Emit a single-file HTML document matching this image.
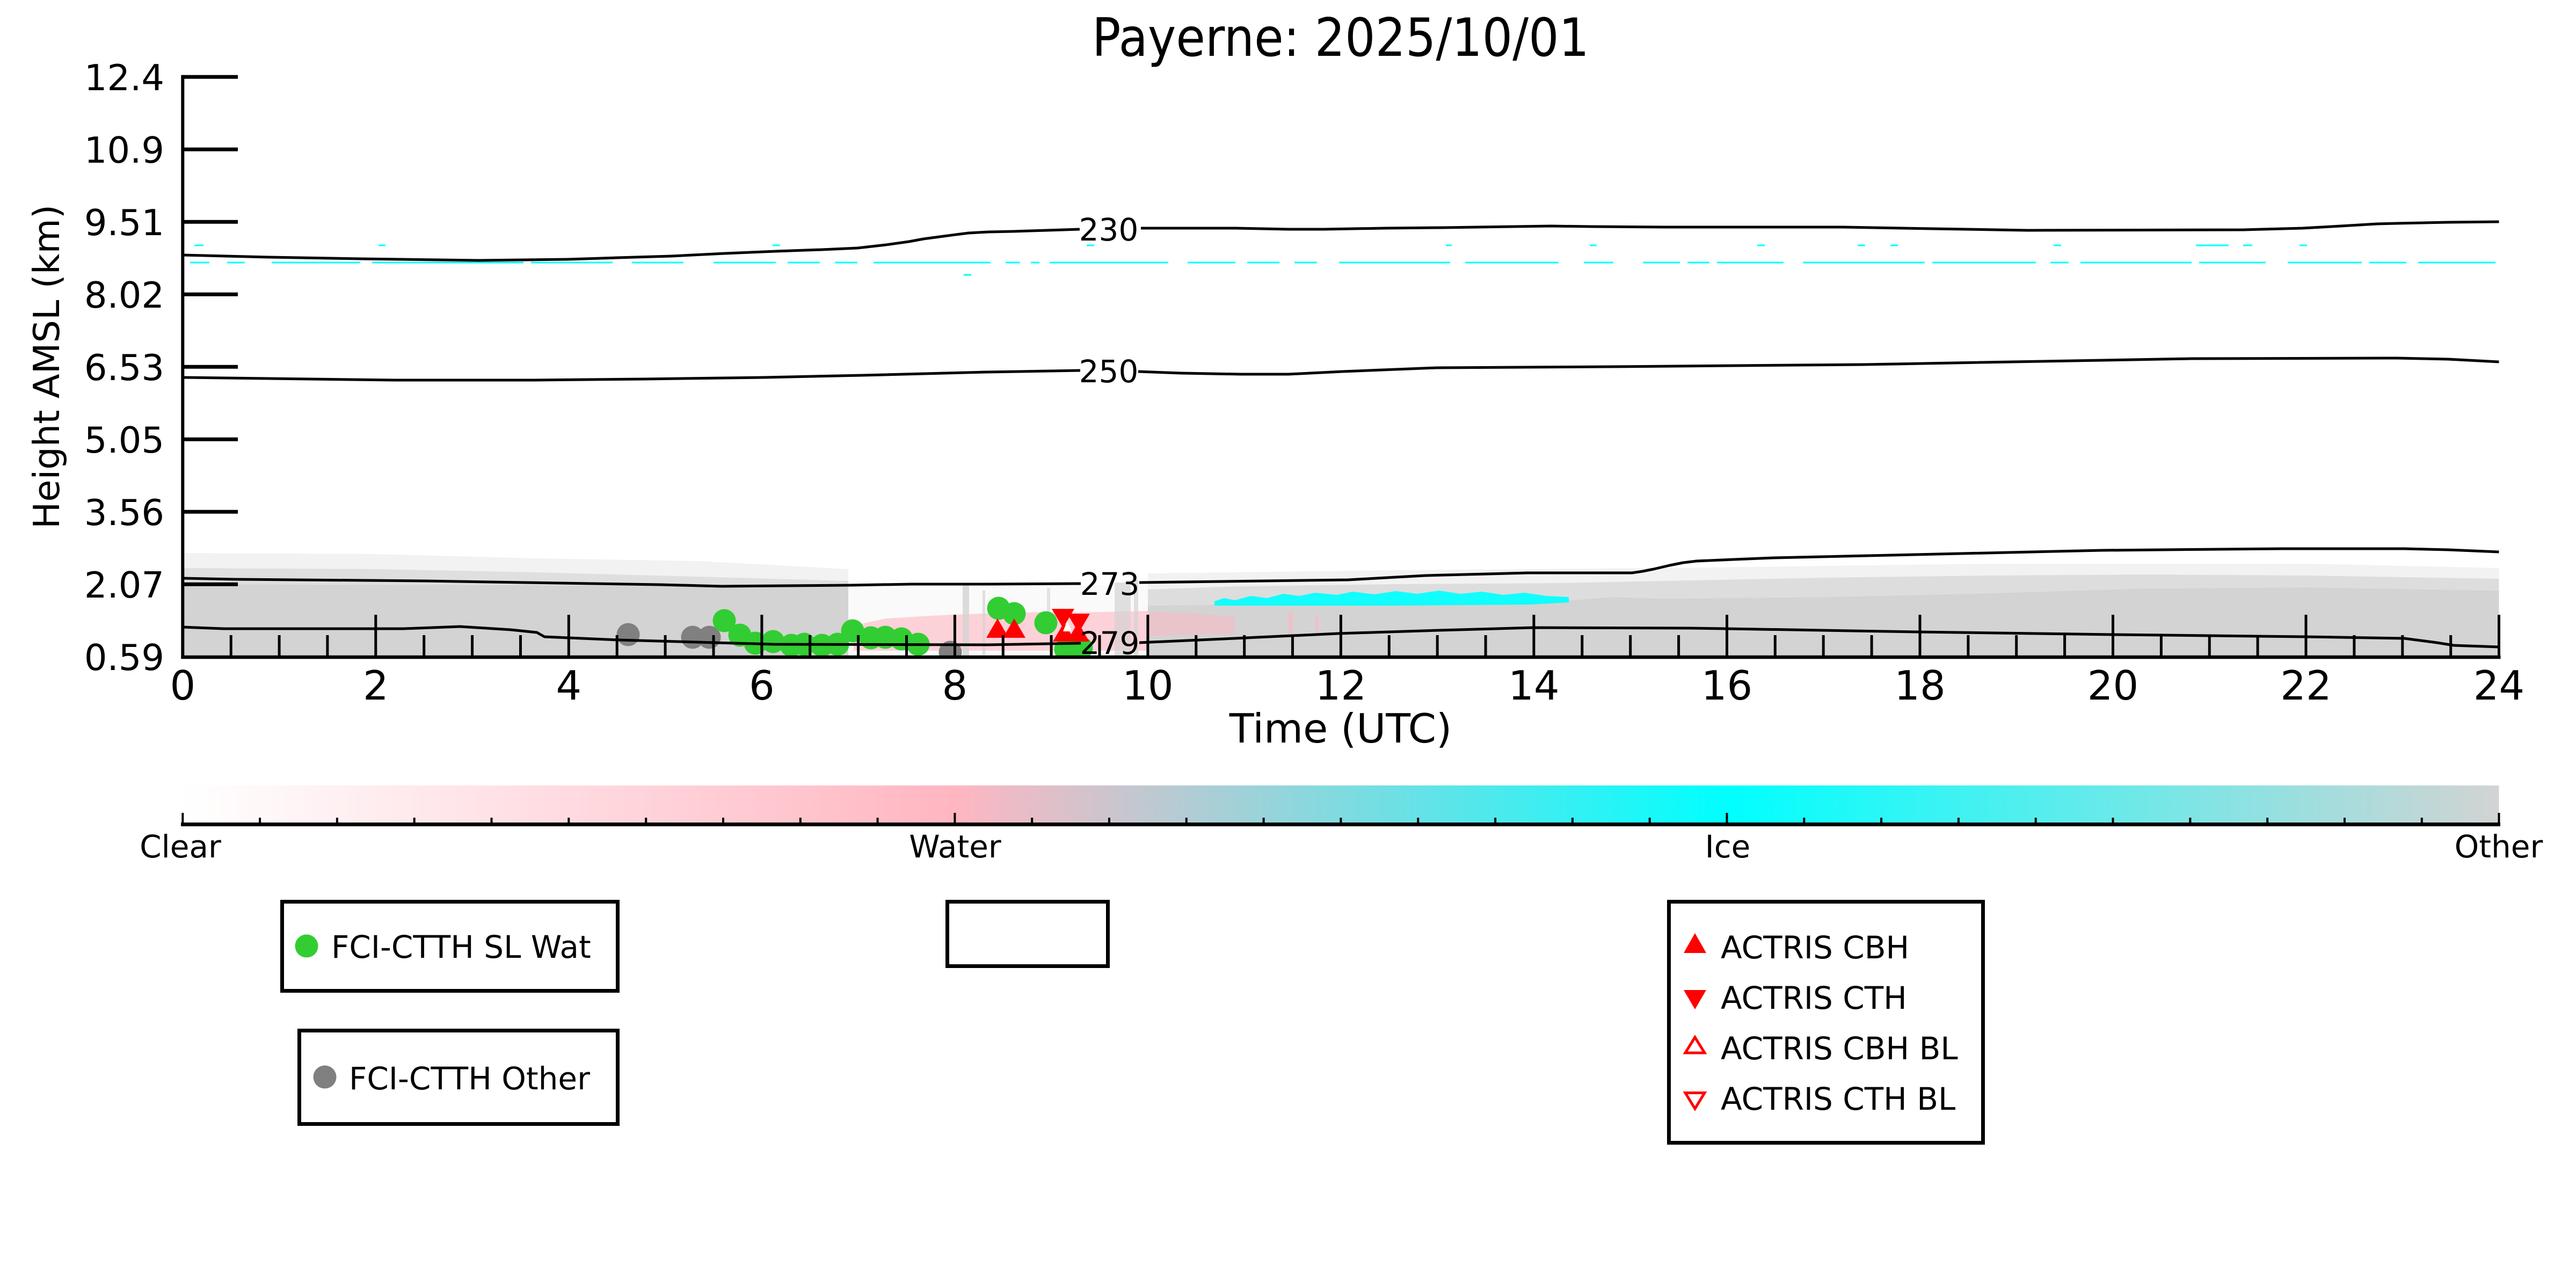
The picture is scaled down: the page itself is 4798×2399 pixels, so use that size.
<!DOCTYPE html>
<html>
<head>
<meta charset="utf-8">
<style>
html,body{margin:0;padding:0;background:#fff;}
svg{display:block;}
text{font-family:"DejaVu Sans","Liberation Sans",sans-serif;fill:#000;}
</style>
</head>
<body>
<svg width="4798" height="2399" viewBox="0 0 4798 2399" xmlns="http://www.w3.org/2000/svg">
<defs>
  <clipPath id="plot"><rect x="340" y="143" width="4315" height="1080"/></clipPath>
  <linearGradient id="cb" gradientUnits="userSpaceOnUse" x1="340" y1="0" x2="4654.5" y2="0">
    <stop offset="0" stop-color="#ffffff"/>
    <stop offset="0.3333" stop-color="#ffb6c1"/>
    <stop offset="0.6667" stop-color="#00ffff"/>
    <stop offset="1" stop-color="#d3d3d3"/>
  </linearGradient>
</defs>
<rect x="0" y="0" width="4798" height="2399" fill="#fff"/>

<!-- Title -->
<text x="2497" y="104" font-size="98" text-anchor="middle" textLength="926" lengthAdjust="spacingAndGlyphs">Payerne: 2025/10/01</text>

<g clip-path="url(#plot)">
  <!-- LEFT gray cloud block (0 - 6.9h) -->
  <polygon fill="#d3d3d3" opacity="0.3" points="340,1030 700,1032 1000,1040 1300,1045 1580,1060 1580,1082 1300,1074 1000,1066 700,1060 340,1058"/>
  <polygon fill="#d3d3d3" opacity="0.72" points="340,1058 700,1060 1000,1066 1300,1074 1580,1082 1580,1093 1300,1092 1000,1090 700,1089 340,1088"/>
  <polygon fill="#d3d3d3" points="340,1223 340,1088 700,1089 1000,1090 1300,1092 1580,1093 1580,1223"/>

  <!-- 7-10h sparse region -->
  <rect x="1580" y="1090" width="558" height="133" fill="#d3d3d3" opacity="0.12"/>
  <polygon fill="#ffb6c1" opacity="0.6" points="1590,1212 1590,1165 1650,1152 1750,1146 1850,1142 1950,1140 2050,1140 2138,1138 2138,1212"/>
  <rect x="1793" y="1090" width="12" height="133" fill="#d3d3d3" opacity="0.8"/>
  <rect x="1830" y="1100" width="5" height="120" fill="#d3d3d3" opacity="0.7"/>
  <rect x="2076" y="1085" width="30" height="138" fill="#d3d3d3" opacity="0.7"/>
  <rect x="2112" y="1080" width="8" height="143" fill="#d3d3d3" opacity="0.7"/>
  <rect x="1950" y="1095" width="6" height="60" fill="#d3d3d3" opacity="0.6"/>

  <!-- RIGHT gray cloud block (10 - 24h) -->
  <polygon fill="#d3d3d3" opacity="0.3" points="2138,1068 2600,1062 3100,1058 3700,1050 4300,1050 4654.5,1058 4654.5,1078 4300,1072 4000,1070 3700,1072 3400,1076 3100,1082 2900,1086 2600,1088 2300,1092 2138,1098"/>
  <polygon fill="#d3d3d3" opacity="0.78" points="2138,1098 2300,1092 2600,1088 2900,1086 3100,1082 3400,1076 3700,1072 4000,1070 4300,1072 4654.5,1078 4654.5,1100 4300,1094 4000,1096 3700,1105 3400,1112 3100,1115 3000,1112 2900,1120 2400,1125 2138,1128"/>
  <polygon fill="#d3d3d3" points="2138,1223 2138,1128 2400,1125 2900,1120 3000,1112 3100,1115 3400,1112 3700,1105 4000,1096 4300,1094 4654.5,1100 4654.5,1223"/>
  <!-- pink streaks over gray -->
  <polygon fill="#ffb6c1" opacity="0.5" points="2138,1140 2224,1142 2300,1150 2300,1180 2224,1182 2138,1185"/>
  <rect x="2400" y="1140" width="8" height="40" fill="#ffb6c1" opacity="0.6"/>
  <rect x="2450" y="1145" width="6" height="30" fill="#ffb6c1" opacity="0.6"/>
  <!-- cyan ice -->
  <polygon fill="#00ffff" opacity="0.92" points="2262,1128 2262,1120 2280,1114 2300,1118 2330,1110 2360,1114 2390,1106 2420,1110 2450,1104 2490,1108 2520,1102 2560,1107 2600,1101 2640,1106 2680,1100 2720,1106 2760,1102 2800,1108 2840,1104 2880,1110 2922,1112 2922,1122 2850,1126 2600,1128"/>

  <!-- upper cyan dashed line -->
  <path stroke="#00ffff" stroke-width="3" fill="none" d="M354 489H390M423 489H456M506 489H671M693 489H975M989 489H1141M1177 489H1273M1329 489H1445M1467 489H1527M1555 489H1597M1627 489H1845M1873 489H1900M1920 489H1936M1955 489H2176M2212 489H2301M2323 489H2383M2411 489H2453M2494 489H2701M2729 489H2903M2950 489H3005M3060 489H3129M3143 489H3184M3198 489H3322M3358 489H3585M3599 489H3792M3819 489H3853M3875 489H4082M4096 489H4220M4261 489H4399M4413 489H4482M4504 489H4648"/>
  <path stroke="#00ffff" stroke-width="3" fill="none" d="M362 457H379M705 457H718M1439 457H1453M2024 457H2038M2693 457H2704M2961 457H2974M3273 457H3287M3460 457H3474M3521 457H3535M3825 457H3839M4090 457H4151M4178 457H4195M4283 457H4297M1795 512H1809"/>

  <!-- gray markers -->
  <g fill="#808080">
    <circle cx="1170" cy="1182" r="21.5"/>
    <circle cx="1290" cy="1187" r="21.5"/>
    <circle cx="1321" cy="1187" r="21.5"/>
    <circle cx="1770" cy="1215" r="21.5"/>
  </g>
  <!-- green markers -->
  <g fill="#32cd32">
    <circle cx="1349" cy="1156" r="21.5"/>
    <circle cx="1378" cy="1183" r="21.5"/>
    <circle cx="1407" cy="1198" r="21.5"/>
    <circle cx="1440" cy="1195" r="21.5"/>
    <circle cx="1474" cy="1202" r="21.5"/>
    <circle cx="1498" cy="1200" r="21.5"/>
    <circle cx="1531" cy="1202" r="21.5"/>
    <circle cx="1560" cy="1200" r="21.5"/>
    <circle cx="1588" cy="1175" r="21.5"/>
    <circle cx="1622" cy="1188" r="21.5"/>
    <circle cx="1649" cy="1187" r="21.5"/>
    <circle cx="1679" cy="1190" r="21.5"/>
    <circle cx="1710" cy="1200" r="21.5"/>
    <circle cx="1860" cy="1133" r="21.5"/>
    <circle cx="1889" cy="1143" r="21.5"/>
    <circle cx="1948" cy="1160" r="21.5"/>
    <circle cx="1985" cy="1210" r="21.5"/>
    <circle cx="2014" cy="1207" r="21.5"/>
  </g>
  <!-- red triangles -->
  <g fill="#ff0000">
    <polygon points="1858,1152 1837,1188 1879,1188"/>
    <polygon points="1889,1152 1868,1188 1910,1188"/>
    <polygon points="1959,1134 2001,1134 1980,1170"/>
    <polygon points="1988,1143 2030,1143 2009,1179"/>
    <polygon points="1982,1159 1961,1195 2003,1195"/>
    <polygon points="2008,1159 1987,1195 2029,1195"/>
  </g>
  <polygon points="1988,1156 1980,1176 1996,1176" fill="#fff"/>

  <!-- contour lines -->
  <g stroke="#000" stroke-width="5" fill="none" stroke-linejoin="round">
    <polyline points="340,475 500,479 671,482 892,485 1058,483 1150,480 1251,477 1350,472 1445,468 1530,465 1597,462 1650,456 1693,450 1720,445 1750,441 1780,437 1804,434 1840,432 1887,431 1950,429 2011,427"/>
    <polyline points="2125,425 2301,425 2400,427 2466,427 2580,425 2687,424 2889,421 2964,422 3102,423 3433,423 3600,426 3776,429 4179,428 4289,425 4360,421 4427,417 4465,416 4560,414 4654.5,413"/>
    <polyline points="340,703 735,708 995,708 1200,706 1423,703 1607,699 1837,693 2012,690"/>
    <polyline points="2120,692 2200,695 2311,697 2400,697 2500,692 2675,685 3000,683 3471,679 4082,668 4465,667 4560,669 4654.5,674"/>
    <polyline points="340,1077 436,1079 790,1082 1230,1089 1344,1092 1584,1090 1698,1088 1840,1088 2013,1087"/>
    <polyline points="2122,1085 2511,1080 2600,1075 2655,1072 2846,1067 3040,1067 3060,1064 3080,1060 3110,1053 3135,1048 3160,1045 3230,1042 3304,1039 3610,1032 3916,1025 4253,1022 4478,1022 4560,1024 4654.5,1028"/>
    <polyline points="340,1168 417,1171 751,1171 857,1167 952,1173 1000,1178 1014,1186 1153,1192 1297,1196 1440,1200 1840,1201 2013,1198"/>
    <polyline points="2122,1197 2300,1189 2492,1180 2680,1174 2855,1169 3150,1170 3217,1171 3574,1177 3937,1182 4294,1186 4478,1189 4539,1197 4570,1202 4654.5,1205"/>
  </g>
</g>

<!-- contour labels -->
<g font-size="58" text-anchor="middle">
  <text x="2065" y="448">230</text>
  <text x="2065" y="712">250</text>
  <text x="2067" y="1108">273</text>
  <text x="2067" y="1218">279</text>
</g>

<!-- y ticks -->
<path stroke="#000" stroke-width="7" fill="none" d="M340 143.3H443M340 278.3H443M340 413.3H443M340 548.3H443M340 683.3H443M340 818.3H443M340 953.3H443M340 1088.3H443"/>
<!-- x ticks major -->
<path stroke="#000" stroke-width="5" fill="none" d="M699.8 1223V1145M1059.3 1223V1145M1418.9 1223V1145M1778.4 1223V1145M2137.9 1223V1145M2497.4 1223V1145M2856.9 1223V1145M3216.5 1223V1145M3576 1223V1145M3935.5 1223V1145M4295 1223V1145M4654.5 1223V1145"/>
<!-- x ticks minor -->
<path stroke="#000" stroke-width="5" fill="none" d="M430.2 1223V1183M520.1 1223V1183M609.9 1223V1183M789.7 1223V1183M879.6 1223V1183M969.5 1223V1183M1149.2 1223V1183M1239.1 1223V1183M1329 1223V1183M1508.7 1223V1183M1598.6 1223V1183M1688.5 1223V1183M1868.3 1223V1183M1958.1 1223V1183M2048 1223V1183M2227.8 1223V1183M2317.7 1223V1183M2407.5 1223V1183M2587.3 1223V1183M2677.2 1223V1183M2767.1 1223V1183M2946.8 1223V1183M3036.7 1223V1183M3126.6 1223V1183M3306.3 1223V1183M3396.2 1223V1183M3486.1 1223V1183M3665.9 1223V1183M3755.7 1223V1183M3845.6 1223V1183M4025.4 1223V1183M4115.3 1223V1183M4205.1 1223V1183M4384.9 1223V1183M4474.8 1223V1183M4564.7 1223V1183"/>
<!-- spines -->
<line x1="340.3" y1="139.8" x2="340.3" y2="1227" stroke="#000" stroke-width="6"/>
<line x1="337.3" y1="1224" x2="4657.5" y2="1224" stroke="#000" stroke-width="6.5"/>

<!-- y tick labels -->
<g font-size="67" text-anchor="end">
  <text x="306" y="167.8">12.4</text>
  <text x="306" y="302.8">10.9</text>
  <text x="306" y="437.8">9.51</text>
  <text x="306" y="572.8">8.02</text>
  <text x="306" y="707.8">6.53</text>
  <text x="306" y="842.8">5.05</text>
  <text x="306" y="977.8">3.56</text>
  <text x="306" y="1112.8">2.07</text>
  <text x="306" y="1247.8">0.59</text>
</g>
<!-- x tick labels -->
<g font-size="75" text-anchor="middle">
  <text x="340.3" y="1303">0</text>
  <text x="699.8" y="1303">2</text>
  <text x="1059.3" y="1303">4</text>
  <text x="1418.9" y="1303">6</text>
  <text x="1778.4" y="1303">8</text>
  <text x="2137.9" y="1303">10</text>
  <text x="2497.4" y="1303">12</text>
  <text x="2856.9" y="1303">14</text>
  <text x="3216.5" y="1303">16</text>
  <text x="3576" y="1303">18</text>
  <text x="3935.5" y="1303">20</text>
  <text x="4295" y="1303">22</text>
  <text x="4654.5" y="1303">24</text>
</g>
<text x="2497" y="1383" font-size="75" text-anchor="middle">Time (UTC)</text>
<text transform="translate(110,683) rotate(-90)" font-size="67" text-anchor="middle">Height AMSL (km)</text>

<!-- colorbar -->
<rect x="340" y="1463" width="4314.5" height="70" fill="url(#cb)"/>
<line x1="337" y1="1535.5" x2="4657" y2="1535.5" stroke="#000" stroke-width="7"/>
<path stroke="#000" stroke-width="4" fill="none" d="M340.3 1533V1514M1778.4 1533V1514M3216.5 1533V1514M4654.5 1533V1514"/>
<path stroke="#000" stroke-width="4" fill="none" d="M484.1 1533V1523M627.9 1533V1523M771.7 1533V1523M915.5 1533V1523M1059.3 1533V1523M1203.2 1533V1523M1347 1533V1523M1490.8 1533V1523M1634.6 1533V1523M1922.2 1533V1523M2066 1533V1523M2209.8 1533V1523M2353.6 1533V1523M2497.4 1533V1523M2641.3 1533V1523M2785.1 1533V1523M2928.9 1533V1523M3072.7 1533V1523M3360.3 1533V1523M3504.1 1533V1523M3647.9 1533V1523M3791.7 1533V1523M3935.5 1533V1523M4079.4 1533V1523M4223.2 1533V1523M4367 1533V1523M4510.8 1533V1523"/>
<g font-size="58" text-anchor="middle">
  <text x="336" y="1597">Clear</text>
  <text x="1779" y="1597">Water</text>
  <text x="3218" y="1597">Ice</text>
  <text x="4654" y="1597">Other</text>
</g>

<!-- legend 1 -->
<rect x="525.5" y="1679.5" width="625" height="166" fill="#fff" stroke="#000" stroke-width="7"/>
<circle cx="571" cy="1762" r="21.5" fill="#32cd32"/>
<text x="617" y="1784" font-size="58">FCI-CTTH SL Wat</text>

<!-- legend 2 -->
<rect x="557.5" y="1919.5" width="593" height="174" fill="#fff" stroke="#000" stroke-width="7"/>
<circle cx="605" cy="2006" r="21.5" fill="#808080"/>
<text x="650" y="2029" font-size="58">FCI-CTTH Other</text>

<!-- legend 3 (empty) -->
<rect x="1764.5" y="1679.5" width="299" height="120" fill="#fff" stroke="#000" stroke-width="7"/>

<!-- legend 4 -->
<rect x="3108.5" y="1679.5" width="585" height="449" fill="#fff" stroke="#000" stroke-width="7"/>
<polygon points="3157,1738 3136,1775 3178,1775" fill="#ff0000"/>
<polygon points="3136,1844 3178,1844 3157,1880" fill="#ff0000"/>
<polygon points="3157,1932 3139,1961 3175,1961" fill="#fff" stroke="#ff0000" stroke-width="5"/>
<polygon points="3139,2035.5 3175,2035.5 3157,2065" fill="#fff" stroke="#ff0000" stroke-width="5"/>
<g font-size="58">
  <text x="3205" y="1785">ACTRIS CBH</text>
  <text x="3205" y="1879">ACTRIS CTH</text>
  <text x="3205" y="1973">ACTRIS CBH BL</text>
  <text x="3205" y="2067">ACTRIS CTH BL</text>
</g>
</svg>
</body>
</html>
